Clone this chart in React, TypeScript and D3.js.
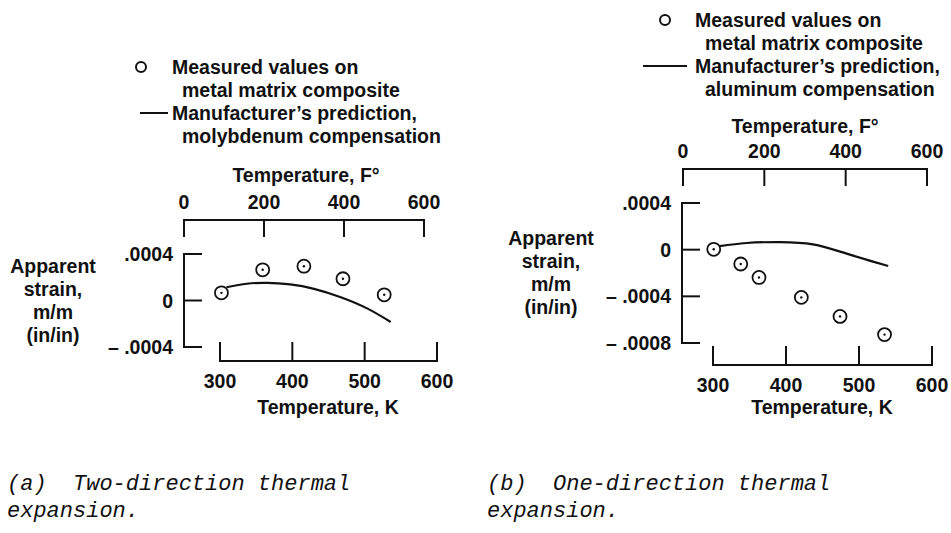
import * as d3 from 'd3';
import { useEffect, useRef } from 'react';

// panel (a) - two-direction thermal expansion
const measuredA_K = [302, 359, 416, 470, 527];
const measuredA_strain = [0.000066, 0.000264, 0.000295, 0.000187, 0.000049];
const predA_K = [309, 337, 365, 397, 430, 467, 504, 536];
const predA_strain = [0.000114, 0.000144, 0.000152, 0.000138, 0.0001, 0.000028, -0.00007, -0.000185];
const yTicksA = [0.0004, 0, -0.0004];
const yTickLabelsA = ['.0004', '0', '\u2013 .0004'];
const legendA = ['Measured values on', 'metal matrix composite', 'Manufacturer\u2019s prediction,', 'molybdenum compensation'];
const captionA = ['(a)  Two-direction thermal', 'expansion.'];

// panel (b) - one-direction thermal expansion
const measuredB_K = [301, 338, 363, 421, 474, 535];
const measuredB_strain = [0.000003, -0.000123, -0.000238, -0.000409, -0.000572, -0.000728];
const predB_K = [309, 346, 392, 437, 483, 540];
const predB_strain = [0.00003, 0.000057, 0.000065, 0.000045, -0.000034, -0.00014];
const yTicksB = [0.0004, 0, -0.0004, -0.0008];
const yTickLabelsB = ['.0004', '0', '\u2013 .0004', '\u2013 .0008'];
const legendB = ['Measured values on', 'metal matrix composite', 'Manufacturer\u2019s prediction,', 'aluminum compensation'];
const captionB = ['(b)  One-direction thermal', 'expansion.'];

// shared axes
const kTicks = [300, 400, 500, 600];
const fTicks = [0, 200, 400, 600];
const yLabelLines = ['Apparent', 'strain,', 'm/m', '(in/in)'];

const W = 951;
const H = 533;
const FONT = '"Liberation Sans", Arial, Helvetica, sans-serif';
const INK = '#111';

type Panel = {
  mK: number[]; mS: number[]; pK: number[]; pS: number[];
  yTicks: number[]; yLabels: string[]; legend: string[]; caption: string[];
  kRange: [number, number]; fRange: [number, number]; yDomain: [number, number]; yRange: [number, number];
  axisX: number; kAxisY: number; fAxisY: number; fTitleY: number; kTitleX: number; fTitleX: number;
  yLabelX: number; yLabelY: number;
  legX: number; legY: number; legLine: [number, number]; legCircleX: number;
  capX: number;
};

const panels: Panel[] = [
  {
    mK: measuredA_K, mS: measuredA_strain, pK: predA_K, pS: predA_strain,
    yTicks: yTicksA, yLabels: yTickLabelsA, legend: legendA, caption: captionA,
    kRange: [220, 437], fRange: [184, 424], yDomain: [-0.0004, 0.0004], yRange: [347, 254],
    axisX: 184, kAxisY: 361, fAxisY: 220, fTitleY: 175, kTitleX: 328, fTitleX: 306,
    yLabelX: 53, yLabelY: 266,
    legX: 172, legY: 67, legLine: [140, 168], legCircleX: 141,
    capX: 7,
  },
  {
    mK: measuredB_K, mS: measuredB_strain, pK: predB_K, pS: predB_strain,
    yTicks: yTicksB, yLabels: yTickLabelsB, legend: legendB, caption: captionB,
    kRange: [713, 932], fRange: [683, 927], yDomain: [-0.0008, 0.0004], yRange: [343, 203],
    axisX: 682, kAxisY: 365, fAxisY: 169, fTitleY: 126, kTitleX: 822, fTitleX: 805,
    yLabelX: 551, yLabelY: 238,
    legX: 695, legY: 20, legLine: [643, 687], legCircleX: 665,
    capX: 487,
  },
];

export default function App() {
  const svgRef = useRef<SVGSVGElement | null>(null);

  useEffect(() => {
    const svg = d3.select(svgRef.current);
    svg.selectAll('*').remove();

    svg.append('rect').attr('width', W).attr('height', H).attr('fill', '#fff');

    panels.forEach((p) => {
      const x = d3.scaleLinear().domain([300, 600]).range(p.kRange);
      const xf = d3.scaleLinear().domain([0, 600]).range(p.fRange);
      const y = d3.scaleLinear().domain(p.yDomain).range(p.yRange);
      const g = svg.append('g')
        .attr('font-family', FONT)
        .attr('font-weight', 'bold')
        .attr('font-size', 19.5)
        .attr('fill', INK);

      const axisStroke = (sel: any) => sel.attr('stroke', INK).attr('stroke-width', 2).attr('fill', 'none');

      // legend
      p.legend.forEach((t, i) => {
        g.append('text')
          .attr('x', p.legX + (i % 2 === 1 ? 10 : 0))
          .attr('y', p.legY + i * 23)
          .attr('dominant-baseline', 'central')
          .text(t);
      });
      g.append('circle')
        .attr('cx', p.legCircleX).attr('cy', p.legY).attr('r', 5)
        .call(axisStroke);
      g.append('line')
        .attr('x1', p.legLine[0]).attr('x2', p.legLine[1])
        .attr('y1', p.legY + 46).attr('y2', p.legY + 46)
        .call(axisStroke);

      // top axis, Fahrenheit
      g.append('text')
        .attr('x', p.fTitleX).attr('y', p.fTitleY)
        .attr('text-anchor', 'middle').attr('dominant-baseline', 'central')
        .text('Temperature, F\u00b0');
      g.append('line')
        .attr('x1', xf(0)).attr('x2', xf(600))
        .attr('y1', p.fAxisY).attr('y2', p.fAxisY)
        .call(axisStroke);
      fTicks.forEach((t) => {
        g.append('line')
          .attr('x1', xf(t)).attr('x2', xf(t))
          .attr('y1', p.fAxisY - 1).attr('y2', p.fAxisY + 17)
          .call(axisStroke);
        g.append('text')
          .attr('x', xf(t)).attr('y', p.fAxisY - 18)
          .attr('text-anchor', 'middle').attr('dominant-baseline', 'central')
          .text(t);
      });

      // left axis, strain
      g.append('line')
        .attr('x1', p.axisX).attr('x2', p.axisX)
        .attr('y1', y(p.yDomain[0]) + 1).attr('y2', y(p.yDomain[1]) - 1)
        .call(axisStroke);
      p.yTicks.forEach((t, i) => {
        g.append('line')
          .attr('x1', p.axisX).attr('x2', p.axisX + 18)
          .attr('y1', y(t)).attr('y2', y(t))
          .call(axisStroke);
        g.append('text')
          .attr('x', p.axisX - 11).attr('y', y(t))
          .attr('text-anchor', 'end').attr('dominant-baseline', 'central')
          .text(p.yLabels[i]);
      });
      yLabelLines.forEach((t, i) => {
        g.append('text')
          .attr('x', p.yLabelX).attr('y', p.yLabelY + i * 23)
          .attr('text-anchor', 'middle').attr('dominant-baseline', 'central')
          .text(t);
      });

      // bottom axis, Kelvin
      g.append('line')
        .attr('x1', x(300) - 1).attr('x2', x(600) + 1)
        .attr('y1', p.kAxisY).attr('y2', p.kAxisY)
        .call(axisStroke);
      kTicks.forEach((t) => {
        g.append('line')
          .attr('x1', x(t)).attr('x2', x(t))
          .attr('y1', p.kAxisY + 1).attr('y2', p.kAxisY - 19)
          .call(axisStroke);
        g.append('text')
          .attr('x', x(t)).attr('y', p.kAxisY + 20)
          .attr('text-anchor', 'middle').attr('dominant-baseline', 'central')
          .text(t);
      });
      g.append('text')
        .attr('x', p.kTitleX).attr('y', 407)
        .attr('text-anchor', 'middle').attr('dominant-baseline', 'central')
        .text('Temperature, K');

      // prediction curve
      const line = d3.line<number>()
        .x((_, i) => x(p.pK[i]))
        .y((d) => y(d))
        .curve(d3.curveNatural);
      g.append('path')
        .datum(p.pS)
        .attr('d', line)
        .attr('fill', 'none')
        .attr('stroke', INK)
        .attr('stroke-width', 2.2);

      // measured points
      p.mS.forEach((s, i) => {
        g.append('circle')
          .attr('cx', x(p.mK[i])).attr('cy', y(s)).attr('r', 6.5)
          .attr('fill', '#fff').attr('stroke', INK).attr('stroke-width', 1.8);
        g.append('circle')
          .attr('cx', x(p.mK[i])).attr('cy', y(s)).attr('r', 1.2)
          .attr('fill', INK);
      });

      // caption
      p.caption.forEach((t, i) => {
        svg.append('text')
          .attr('x', p.capX).attr('y', 490 + i * 27)
          .attr('font-family', '"Liberation Mono", "Courier New", monospace')
          .attr('font-style', 'italic')
          .attr('font-size', 22)
          .attr('fill', INK)
          .attr('xml:space', 'preserve')
          .style('white-space', 'pre')
          .text(t);
      });
    });
  }, []);

  return (
    <svg
      ref={svgRef}
      width={W}
      height={H}
      style={{ position: 'absolute', left: 0, top: 0 }}
    />
  );
}
